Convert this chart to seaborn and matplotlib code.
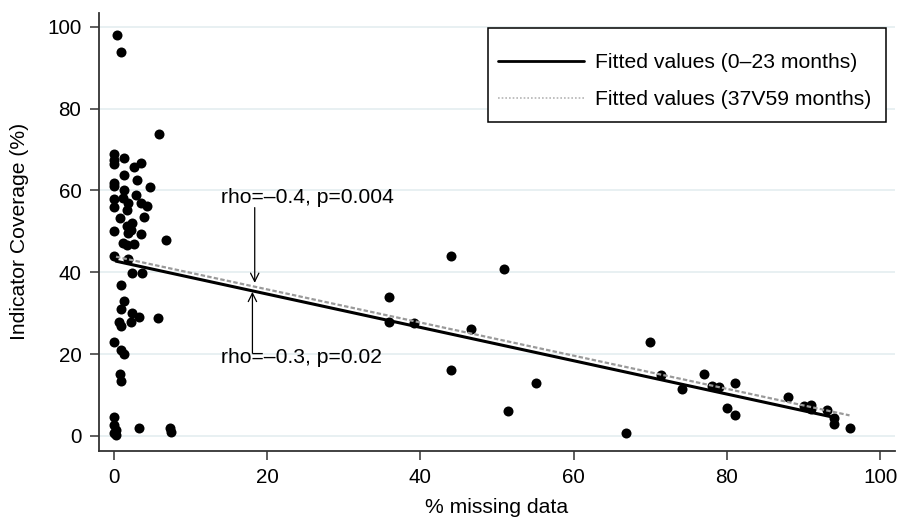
import matplotlib
matplotlib.use("Agg")
import matplotlib.pyplot as plt
import seaborn as sns
import pandas as pd
from matplotlib.lines import Line2D
from matplotlib.patches import Rectangle

# % missing data (x) and indicator coverage (y) for each district/indicator point
missing_pct = [
    0.4, 0.9, 5.9, 0.1, 0.1, 0.1, 1.4, 2.7, 3.6, 1.4, 3.1, 0.0, 0.1, 4.7, 1.3,
    2.9, 0.0, 1.2, 1.9, 3.5, 4.3, 0.1, 1.7, 0.8, 3.9, 2.4, 1.7, 2.3, 1.9, 0.0,
    3.6, 6.8, 1.2, 1.7, 2.7, 0.1, 1.9, 2.4, 3.7, 0.9, 1.4, 1.0, 2.4, 3.3, 5.8,
    0.7, 1.0, 2.2, 0.1, 0.9, 1.3, 0.8, 0.9, 0.0, 0.1, 0.3, 0.1, 0.3, 3.3, 7.4,
    7.5,
    35.9, 35.9, 44.0, 50.9, 39.2, 46.6, 44.0, 55.1, 51.5, 66.9,
    70.0, 71.4, 74.2, 77.0, 78.0, 79.0, 81.0, 80.0, 81.0, 88.0, 90.0, 91.0,
    91.0, 93.0, 94.0, 94.0, 96.0,
]
coverage = [
    97.9, 93.8, 73.8, 69.0, 67.5, 66.5, 68.0, 65.8, 66.8, 63.8, 62.5, 61.9, 61.1, 60.8, 60.0,
    58.9, 57.9, 58.1, 57.0, 57.0, 56.1, 55.9, 55.3, 53.3, 53.6, 52.0, 51.2, 50.4, 49.6, 50.0,
    49.3, 47.9, 47.1, 46.7, 46.9, 44.0, 43.2, 39.9, 39.8, 36.9, 33.0, 31.0, 30.0, 29.0, 28.9,
    27.9, 26.9, 27.9, 22.9, 20.9, 20.0, 15.2, 13.3, 4.7, 2.7, 1.5, 0.7, 0.2, 1.9, 1.9,
    0.9,
    33.9, 27.9, 44.0, 40.9, 27.7, 26.1, 16.0, 13.0, 6.1, 0.8,
    22.9, 14.9, 11.5, 15.1, 12.1, 11.9, 13.0, 6.8, 5.1, 9.6, 7.4, 7.6,
    6.5, 6.2, 4.3, 2.9, 1.9,
]

# Fitted regression lines (endpoints)
fit_young_x = [0.3, 94.0]
fit_young_y = [42.7, 4.5]
fit_old_x = [0.3, 96.0]
fit_old_y = [43.8, 5.0]

legend_labels = ["Fitted values (0\u201323 months)", "Fitted values (37V59 months)"]
annot_top = "rho=\u20130.4, p=0.004"
annot_bottom = "rho=\u20130.3, p=0.02"

sns.set_theme(style="white")
plt.rcParams["font.family"] = ["Liberation Sans", "DejaVu Sans"]
plt.rcParams["text.color"] = "black"
plt.rcParams["axes.labelcolor"] = "black"
plt.rcParams["xtick.color"] = "black"
plt.rcParams["ytick.color"] = "black"

FS = 15.2
W, H = 897, 517

fig = plt.figure(figsize=(8.97, 5.17), dpi=100)
ax = fig.add_axes([0.110, 0.128, 0.888, 0.847])

grid_color = "#e6eff1"
for yv in [0, 20, 40, 60, 80, 100]:
    ax.axhline(yv, color=grid_color, lw=1.3, zorder=0)

pts = pd.DataFrame({"missing": missing_pct, "coverage": coverage})
sns.scatterplot(data=pts, x="missing", y="coverage", ax=ax, color="black",
                s=52, linewidth=0, zorder=3, legend=False)

sns.lineplot(x=fit_young_x, y=fit_young_y, ax=ax, color="black", lw=2.2,
             zorder=4, legend=False)
sns.lineplot(x=fit_old_x, y=fit_old_y, ax=ax, color="#9a9a9a", lw=1.6,
             linestyle=(0, (2, 1)), zorder=4, legend=False)

ax.set_xlim(-1.96, 101.96)
ax.set_ylim(-3.67, 103.4)
ax.set_xticks([0, 20, 40, 60, 80, 100])
ax.set_yticks([0, 20, 40, 60, 80, 100])

for s in ["top", "right"]:
    ax.spines[s].set_visible(False)
for s in ["left", "bottom"]:
    ax.spines[s].set_color("#333333")
    ax.spines[s].set_linewidth(1.3)

ax.tick_params(axis="both", which="major", direction="out", length=6.5,
               width=1.1, color="#333333", labelsize=14.9, pad=6,
               bottom=True, left=True, labelcolor="black")
ax.set_xlabel("% missing data", fontsize=FS, labelpad=8)
ax.set_ylabel("Indicator Coverage (%)", fontsize=FS, labelpad=13)

# annotations
ax.text(14.0, 58.2, annot_top, fontsize=FS, va="center", ha="left")
ax.annotate("", xy=(18.4, 37.4), xytext=(18.4, 55.8),
            arrowprops=dict(arrowstyle="->", lw=0.9, color="black",
                            mutation_scale=15, shrinkA=0, shrinkB=0))
ax.text(14.0, 19.1, annot_bottom, fontsize=FS, va="center", ha="left")
ax.annotate("", xy=(18.1, 35.2), xytext=(18.1, 20.2),
            arrowprops=dict(arrowstyle="->", lw=0.9, color="black",
                            mutation_scale=15, shrinkA=0, shrinkB=0))

# legend frame (drawn separately for asymmetric padding)
frame = Rectangle((488 / W, 1 - 122 / H), 398 / W, 94 / H,
                  transform=fig.transFigure, facecolor="white",
                  edgecolor="black", lw=1.1, zorder=5, clip_on=False)
ax.add_patch(frame)

handles = [
    Line2D([0], [0], color="black", lw=2.0),
    Line2D([0], [0], color="#b5b5b5", lw=1.2, linestyle=(0, (1, 1.2))),
]
leg = ax.legend(handles, legend_labels, loc="upper left",
                bbox_to_anchor=(498 / W, 1 - 53.5 / H),
                bbox_transform=fig.transFigure, fontsize=FS,
                handlelength=4.07, handletextpad=0.52, borderpad=0.0,
                labelspacing=0.85, frameon=False, borderaxespad=0)
leg.set_zorder(6)

fig.savefig("out.png", dpi=100)
